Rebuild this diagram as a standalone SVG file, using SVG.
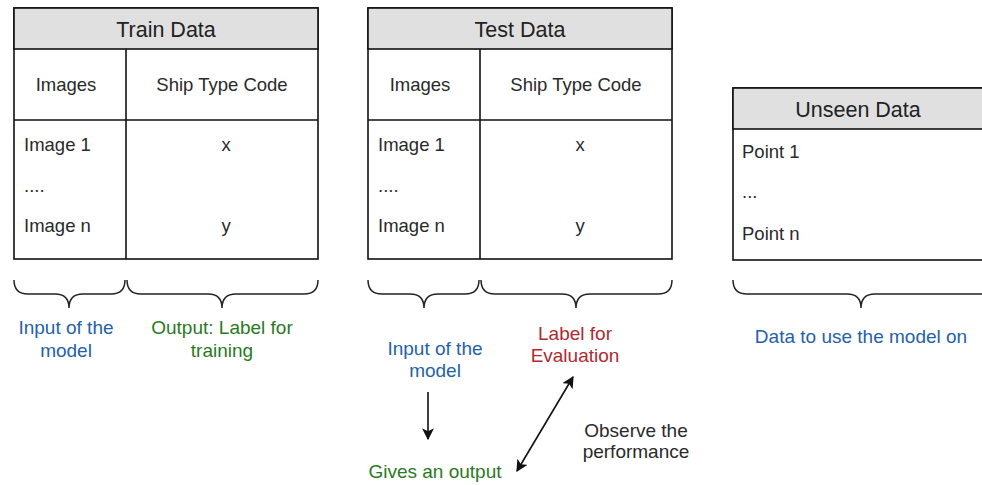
<svg xmlns="http://www.w3.org/2000/svg" width="982" height="485" viewBox="0 0 982 485">
<defs>
<style>
text{font-family:"Liberation Sans",Arial,sans-serif;}
.tbl{fill:#fff;stroke:#111;stroke-width:1.6;}
.hdr{fill:#e0e0e0;stroke:#111;stroke-width:1.6;}
.ln{stroke:#111;stroke-width:1.6;fill:none;}
.title{font-size:21.5px;fill:#222;text-anchor:middle;}
.cell{font-size:18.5px;fill:#2a2a2a;}
.mid{text-anchor:middle;}
.brace{fill:none;stroke:#222;stroke-width:1.5;}
.lbl{font-size:19px;text-anchor:middle;}
.blue{fill:#2462a8;}
.green{fill:#2a7a1e;}
.red{fill:#b02a2e;}
.dark{fill:#2a2a2a;}
.arr{stroke:#111;stroke-width:1.6;fill:none;}
</style>
<marker id="ah" viewBox="0 0 10 10" refX="9" refY="5" markerWidth="12" markerHeight="12" markerUnits="userSpaceOnUse" orient="auto-start-reverse">
<path d="M0,0 L10,5 L0,10 L2.5,5 Z" fill="#111"/>
</marker>
</defs>

<g id="train">
<rect class="tbl" x="14" y="8" width="304" height="251"/>
<rect class="hdr" x="14" y="8" width="304" height="41"/>
<line class="ln" x1="126" y1="49" x2="126" y2="259"/>
<line class="ln" x1="14" y1="120" x2="318" y2="120"/>
<text class="title" x="166" y="36.5">Train Data</text>
<text class="cell mid" x="66" y="90.5">Images</text>
<text class="cell mid" x="222" y="90.5">Ship Type Code</text>
<text class="cell" x="24" y="150.5">Image 1</text>
<text class="cell" x="24" y="191.5">....</text>
<text class="cell" x="24" y="232">Image n</text>
<text class="cell mid" x="226" y="150.5">x</text>
<text class="cell mid" x="226" y="232">y</text>
</g>

<g id="test">
<rect class="tbl" x="368" y="8" width="304" height="251"/>
<rect class="hdr" x="368" y="8" width="304" height="41"/>
<line class="ln" x1="480" y1="49" x2="480" y2="259"/>
<line class="ln" x1="368" y1="120" x2="672" y2="120"/>
<text class="title" x="520" y="36.5">Test Data</text>
<text class="cell mid" x="420" y="90.5">Images</text>
<text class="cell mid" x="576" y="90.5">Ship Type Code</text>
<text class="cell" x="378" y="150.5">Image 1</text>
<text class="cell" x="378" y="191.5">....</text>
<text class="cell" x="378" y="232">Image n</text>
<text class="cell mid" x="580" y="150.5">x</text>
<text class="cell mid" x="580" y="232">y</text>
</g>

<g id="unseen">
<rect class="tbl" x="733" y="88" width="260" height="172"/>
<rect class="hdr" x="733" y="88" width="260" height="41"/>
<text class="title" x="858" y="117">Unseen Data</text>
<text class="cell" x="742" y="158">Point 1</text>
<text class="cell" x="742" y="198">...</text>
<text class="cell" x="742" y="240">Point n</text>
</g>

<g id="braces">
<path class="brace" d="M14,280 Q14,294 28,294 L55,294 Q69,294 69,308 Q69,294 83,294 L111,294 Q125,294 125,280"/>
<path class="brace" d="M127,280 Q127,294 141,294 L208,294 Q222,294 222,308 Q222,294 236,294 L304,294 Q318,294 318,280"/>
<path class="brace" d="M368,280 Q368,294 382,294 L410,294 Q424,294 424,308 Q424,294 438,294 L465,294 Q479,294 479,280"/>
<path class="brace" d="M481,280 Q481,294 495,294 L562,294 Q576,294 576,308 Q576,294 590,294 L658,294 Q672,294 672,280"/>
<path class="brace" d="M733,280 Q733,294 747,294 L847,294 Q861,294 861,308 Q861,294 875,294 L990,294"/>
</g>

<g id="labels">
<text class="lbl blue" x="66" y="334">Input of the</text>
<text class="lbl blue" x="66" y="357">model</text>
<text class="lbl green" x="222" y="334">Output: Label for</text>
<text class="lbl green" x="222" y="357">training</text>
<text class="lbl blue" x="435" y="355">Input of the</text>
<text class="lbl blue" x="435" y="377">model</text>
<text class="lbl red" x="575" y="340">Label for</text>
<text class="lbl red" x="575" y="362">Evaluation</text>
<text class="lbl green" x="435" y="478">Gives an output</text>
<text class="lbl dark" x="636" y="437">Observe the</text>
<text class="lbl dark" x="636" y="458">performance</text>
<text class="lbl blue" x="861" y="343">Data to use the model on</text>
</g>

<g id="connectors">
<line class="arr" x1="428" y1="392" x2="428" y2="439" marker-end="url(#ah)"/>
<line class="arr" x1="517" y1="471" x2="573" y2="377" marker-start="url(#ah)" marker-end="url(#ah)"/>
</g>
</svg>
